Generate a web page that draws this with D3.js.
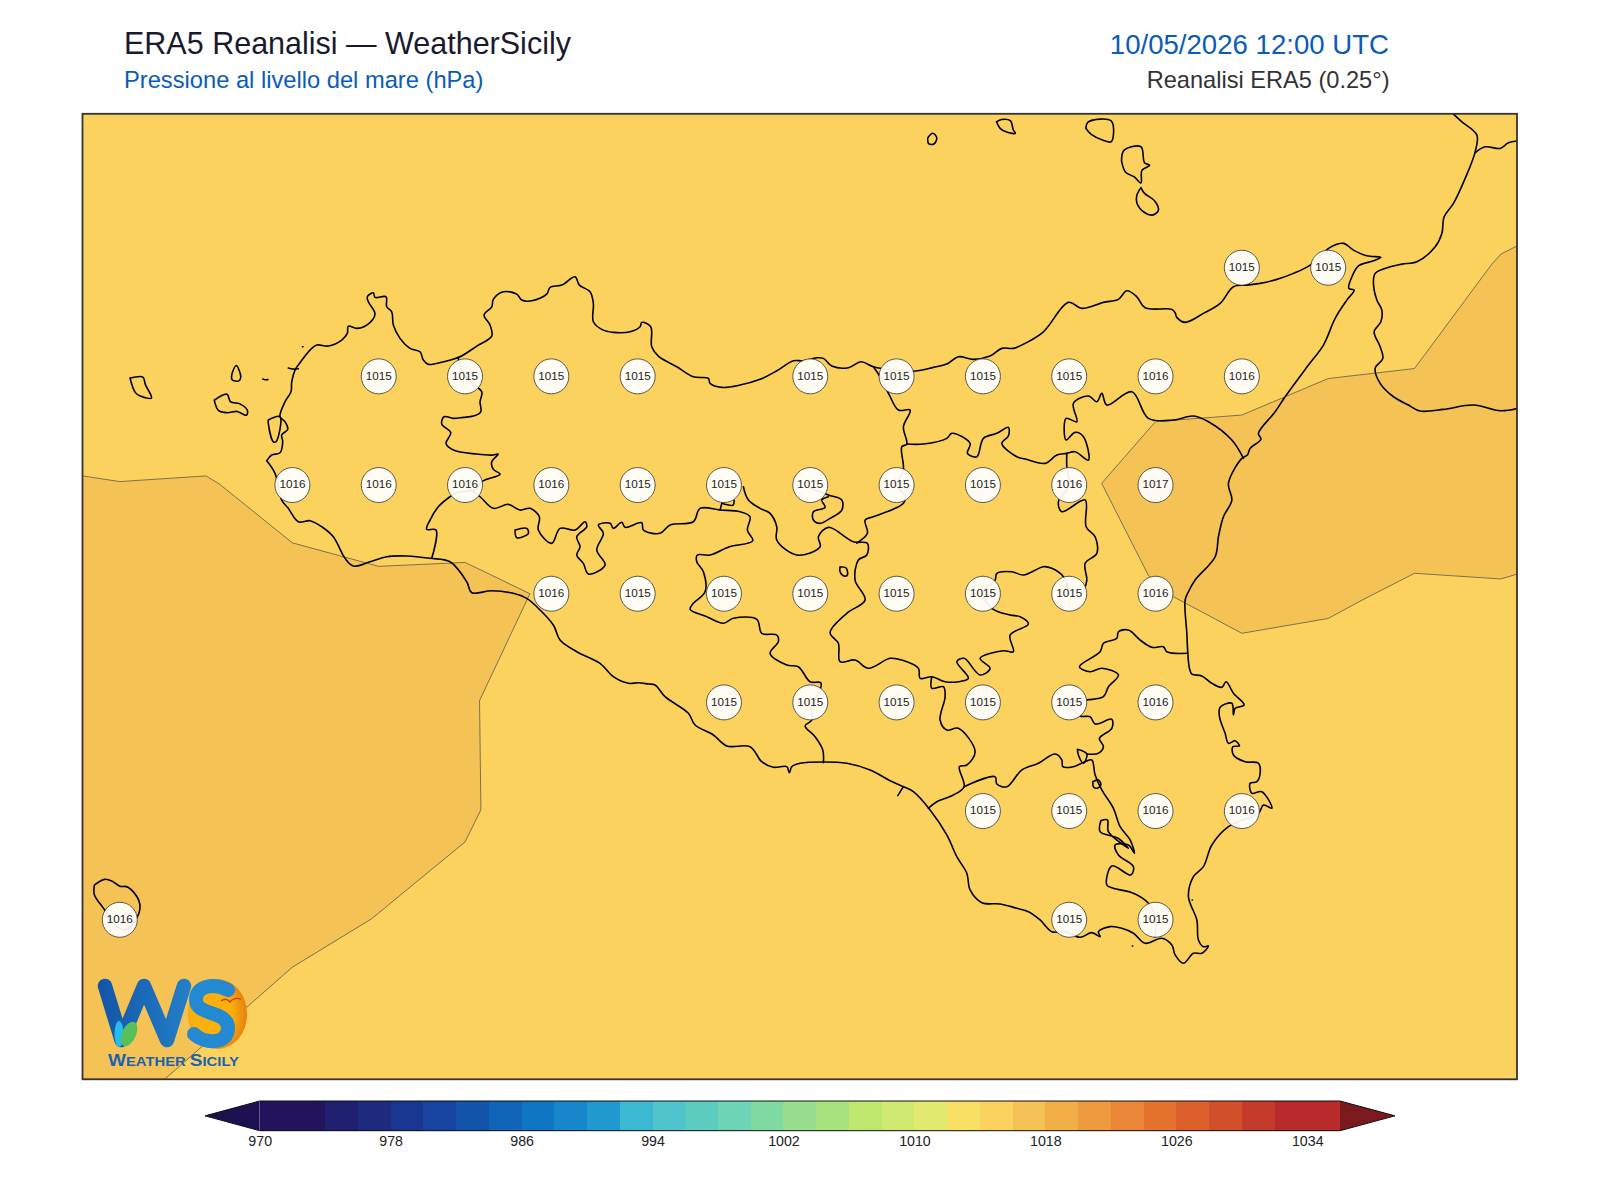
<!DOCTYPE html>
<html><head><meta charset="utf-8">
<script src="https://cdn.jsdelivr.net/npm/d3@7"></script>
<style>html,body{margin:0;padding:0;background:#fff}svg{display:block}text{font-family:"Liberation Sans",Arial,sans-serif}</style>
</head><body><div id="chart"></div>
<script>
// ---- text ----
const titleMain = "ERA5 Reanalisi — WeatherSicily";
const titleSub = "Pressione al livello del mare (hPa)";
const titleDate = "10/05/2026 12:00 UTC";
const titleSource = "Reanalisi ERA5 (0.25°)";
const logoWords = "Weather Sicily";
// ---- colour bar ----
const levels = [970,972,974,976,978,980,982,984,986,988,990,992,994,996,998,1000,1002,1004,1006,1008,1010,1012,1014,1016,1018,1020,1022,1024,1026,1028,1030,1032,1034];
const levelColors = ["#23125c","#23125c","#1f2070","#1e2a7d","#18368f","#16449f","#1354ab","#1165b8","#0e76c3","#1786cb","#2199cf","#3cb9d2","#4fc4cc","#5dccc0","#6dd5b5","#80d9a0","#96de8e","#a8e27f","#bde76e","#d0e96f","#e3ea70","#f8e064","#fcd25f","#f5c255","#f2af48","#ee9b40","#ea8638","#e6722f","#dd5f2b","#d25029","#c43a2b","#b92a2b","#b92a2b"];
const underColor = "#1c1050", overColor = "#7a1a1e";
const colorbarTicks = [970,978,986,994,1002,1010,1018,1026,1034];
// ---- pressure labels at grid points: one row per latitude ----
const rowLat = [38.25,38.0,37.75,37.5,37.25,37.0,36.75];
const rowLons = [
 [15.25,15.5],
 [12.75,13.0,13.25,13.5,14.0,14.25,14.5,14.75,15.0,15.25],
 [12.5,12.75,13.0,13.25,13.5,13.75,14.0,14.25,14.5,14.75,15.0],
 [13.25,13.5,13.75,14.0,14.25,14.5,14.75,15.0],
 [13.75,14.0,14.25,14.5,14.75,15.0],
 [14.5,14.75,15.0,15.25],
 [12.0,14.75,15.0]];
const rowValues = [
 [1015,1015],
 [1015,1015,1015,1015,1015,1015,1015,1015,1016,1016],
 [1016,1016,1016,1016,1015,1015,1015,1015,1015,1016,1017],
 [1016,1015,1015,1015,1015,1015,1015,1016],
 [1015,1015,1015,1015,1015,1016],
 [1015,1015,1016,1016],
 [1016,1015,1015]];
// ---- 1016 hPa filled contour regions, lon/lat ----
const bandLevel = 1016;
const bandWest = [[11.892,37.771],[12.0,37.758],[12.25,37.771],[12.289,37.752],[12.5,37.617],[12.75,37.563],[13.0,37.572],[13.188,37.5],[13.042,37.254],[13.046,37.003],[13.0,36.929],[12.729,36.752],[12.5,36.641],[12.13,36.383],[11.892,36.383]];
const bandEast = [[16.047,38.30],[16.0,38.281],[15.974,38.258],[15.75,38.018],[15.5,37.995],[15.25,37.911],[15.0,37.896],[14.844,37.754],[14.98,37.541],[15.052,37.493],[15.25,37.409],[15.5,37.443],[15.6,37.486],[15.75,37.547],[16.0,37.534],[16.047,37.545]];
// ---- outlines (flat x,y read-off units, converted to lon/lat below) ----
const coastSicily = [266.7,460.7,271.7,455,280,452.7,282.7,441.7,281.7,435,287.7,429.3,285,421.7,280,416.7,285,401.7,291,391.7,291.7,381.7,295,370,300,362.7,310,350,316.7,345,328.3,346,341.7,340,347.3,333.3,348.3,326,356.7,328.3,366.7,325,375,314,368.3,301.7,367.3,296.7,373.3,292.7,375,297.3,386,296.7,386.7,306.7,391.7,311.7,393.3,325,400,338.3,410,348.3,420,351.7,423.3,360,428.3,364.3,443.3,361.7,460,356.7,476.7,346,491.7,336,490,325,484,315,491.7,306.7,493.3,299.3,503.3,291.7,516.7,294,521.7,300,531.7,300.7,546.7,294,550,287.3,561.7,285,575,276.7,579.3,285,590,291.7,593.3,303.3,593.3,321.7,601.7,329.3,613.3,332.3,630,331.7,640,326.7,641.7,322.3,650.7,326.7,651.7,346.7,658.3,356,676.7,366.7,693.3,376.7,708.3,378.3,710,383.3,721.7,387.3,740,385,760,379.3,776.7,370.7,793.3,360.7,803.3,360.7,816.7,357.7,823.3,358.3,831.7,366,848.3,367.7,861,361.7,873.3,366.7,893.3,370,915,371,933.3,367.3,946.7,364,958.3,356.7,973.3,359.3,990,356,1001.7,348.3,1013.3,348.3,1025,343.3,1043.3,331.7,1068.3,302.3,1081.7,308.3,1103.3,302.3,1118.3,299.3,1126.7,290.7,1136.7,296.7,1145,307.7,1171.7,309.3,1175,312.7,1176.7,317.3,1185,322.3,1203.3,313.3,1220,303.3,1233.3,286.7,1246.7,285,1260,283.3,1276.7,279.3,1293.3,273.3,1310,265,1330,247.3,1343.3,243.3,1353.3,250,1366.7,255.7,1380.7,257.3,1373.3,260.7,1358.3,265.7,1353.3,273.3,1348.7,288.3,1354,290,1346.7,300,1335,318.3,1323.3,345,1308.3,365,1285,396.7,1275,411.7,1258.3,433.3,1260.7,439.3,1250,448.3,1247.3,455,1241.7,458.3,1228.3,483.3,1231.7,500,1223.3,516.7,1218.3,536.7,1215,556.7,1195,580,1188.3,591.7,1185,600,1186.7,633.3,1187.7,653.3,1189.3,668.3,1191.7,674,1201.7,676,1211.7,683.3,1221.7,687.3,1226,681.7,1233.3,693.3,1244,705,1235,708.3,1233.3,715,1231.7,703.3,1220,707.3,1219.3,716.7,1225,733.3,1228.3,743.3,1235,740.7,1239.3,746,1232.7,746.7,1233.3,755,1245,761.7,1258.3,763.3,1260,773.3,1256.7,781.7,1250,783.3,1251.7,793.3,1261.7,791.7,1271.7,808.3,1263.3,805,1258.3,813.3,1228.3,826.7,1211.7,845,1203.3,866.7,1193.3,876.7,1188.3,896.7,1196.7,920,1198.3,940,1203.3,946.7,1208.3,946,1201.7,953.3,1193.3,953.3,1183.3,963.3,1175,955,1171.7,945,1161.7,938.3,1145,943.3,1133.3,933.3,1121.7,928.3,1110,926.7,1098.3,931.7,1100,936.7,1091.7,932.7,1080,937.3,1065,931.7,1051.7,931.7,1040,920,1028.3,911.7,1016.7,908.3,1000,904,981.7,902.7,970,890,966.7,873.3,956.7,856.7,946.7,835,930,810,913.3,791.7,903.3,786.7,890,780.7,870,770,846.7,763.3,823.3,762,800,763.3,791.7,766.7,789.3,772.7,786.7,766.7,773.3,767.3,761.7,761.7,750,746.7,726.7,746,713.3,735,695,725,688.3,713.3,665,696.7,655,685,648.3,684,638.3,682.7,628.3,683.3,613.3,676.7,600,663.3,576.7,651.7,560,640,553.3,625,536.7,606.7,526.7,598.3,513.3,593.3,491.7,590.7,471.7,592.7,466.7,581.7,450,561.7,430,558.3,406.7,556,386.7,556.7,370,561.7,353.3,566,345,558.3,333.3,536.7,321.7,526.7,310,520.7,298.3,521.7,288.3,508.3,281.7,500,275,473.3,266.7,460.7];
const coastCalabria = [1453.3,114,1461.7,121.7,1476.7,135,1475,151.7,1465,178.3,1453.3,203.3,1444,216.7,1441.7,233.3,1435,246.7,1416.7,261.7,1401.7,264,1390,266.7,1375,273.3,1373.3,283.3,1376.7,300,1381.7,310,1380.7,321.7,1374,331.7,1380,346.7,1382.7,358.3,1375,368.3,1380,383.3,1393.3,396.7,1408.3,405,1420,411,1443.3,409.3,1473.3,405,1500,410.7,1518,408.3];
const borderCalabria = [1475,152.7,1485,146.7,1500,148.3,1508.3,142.7,1518,140.7];
const islands = [
 [130,378,142.9,377,145.4,384.6,151.5,398,140.3,396,135.2,392.3,130,378],
 [214.3,400,227,394.2,230.6,401.8,239.8,403.8,247.4,410.3,246.4,415.2,237.2,411.4,227,412.6,218.4,410.3,214.3,400],
 [232.1,373.1,236.2,365.5,240.8,377,238.8,380.8,232.1,379.6,232.1,373.1],
 [262.8,378.9,265,379.6,267.9,379.6],
 [94.4,885.1,104.6,879.4,112.2,881.3,119.9,886.3,127.6,887,138.8,900.4,138.8,913.8,125,930,110,920,104.6,910,94.4,894.7,94.4,885.1],
 [927.6,137.8,932.7,133.2,936.7,137.8,933.7,143.9,928.6,143.5,927.6,137.8],
 [996.4,121.7,1001.5,119.4,1010.2,120.6,1013.3,130,1015.3,133.2,1006.6,132,1000,128.2,996.4,121.7],
 [1085.7,128.2,1088.3,121.7,1111.2,120.9,1111.2,141.6,1103.6,140.4,1090.8,134,1085.7,128.2],
 [1121.4,160.7,1124,150,1140.8,146.6,1144.4,162.6,1149.5,165.3,1141.8,170.3,1140.8,182.9,1134.2,176.8,1125.5,172.2,1121.4,160.7],
 [1140.8,187.5,1144.4,193.3,1154.6,200.9,1158.2,210.5,1152,215,1144.4,212.4,1136.7,202.8,1136.7,195.2,1140.8,187.5],
 [515,530,526.7,528.3,528.3,533.3,516.7,537.7,515,530],
 [288.3,368,293,369,298.3,368.6],
 [268.3,420,280,416.7,276,441.7,273.3,441.7,268.3,423.3,268.3,420],
 [1100.7,820.7,1107.3,820,1108.3,831.7,1128.3,848.3,1118,838.3,1100,831.7,1100.7,820.7],
 [1092.7,781.7,1098.3,780,1100.7,785,1096.7,788.3,1093.3,786.7,1092.7,781.7],
 [840,566.7,846,568,847.3,575,844,576,840,571.7,840,566.7],
 [1077.3,749.3,1086.7,754,1083.3,763.3,1078.3,755,1077.3,749.3],
 [903.3,786.7,897.7,795.7],
 [302.5,346.7,303,346.7],
 [1132.2,946,1132.6,946],
 [1192,900,1192.4,900]];
const borders = [
 [458.3,357.3,460,366.7,470,381.7,481.7,391.7,480,401.7,480.7,411.7,473.3,416,463.3,417.3,453.3,418.3,444,416.7,441.7,424,450.7,432.7,446,443.3,453.3,450,476.7,454,493.3,455,498.3,454,491.7,461.7,493.3,469.3,500,474,486.7,479.3,481.7,481.7,475,490,458,492,450,496.7,438.3,506.7,430,520,426.7,529.3,436,530,431.7,558.3],
 [465,485,480,496.7,493.3,508.3,508.3,504.3,520,510,530,508.3,539.3,516.7,538.3,530,551.7,543.3,560,528.3,575,530,585,521.7,586.7,526.7,576.7,536.7,580,546.7,576.7,555,583.3,563.3,588.3,574,605,565,596.7,550,603.3,533.3,598.3,525,610,523.3,613.3,528.3,621.7,522.3,625,527.3,641.7,522.7,643.3,530,660,533.3,670,525,693.3,521.7,700,508.3,720,510,740,511.7,750,516.7,747.3,530,752.7,540.7,729.3,546.7,710,555,697.3,555,696.7,561.7,703.3,571.7,705,591.7,693.3,603.3,690,609.3,706.7,616.7,723.3,623.3,733.3,618.3,756.7,619.3,761.7,633.3,776.7,635,778.3,641.7,770,653.3,786.7,665,798.3,666.7,810,681.7,820.7,682.7,820,690,812,705,811.7,720,805,726,815,736.7,822.7,750,823.3,762.7],
 [721.7,503.3,720,510],
 [721.7,503.3,733,505,734,500],
 [743.3,486.7,748.3,500,760,508.3,770,513.3,776.7,526.7,776.7,540,796.7,555,820,546.7,818.3,536.7,828.3,527.3,853.3,541.7,867.3,543.3,866.7,555,858.3,560,855,580,865,600,846.7,613.3,830,632.7,838.3,643.3,840,661.7,855,660,868.3,668.3,890,658.3,901.7,660,918.3,668.3,920,678.3,931.7,676.7,945,681.7,958.3,681.7,968.3,678.3,956.7,661.7,964,658.3,980,675,990,668.3,980,658.3,1003.3,650.7,1013.3,651.7,1010,635,1028.3,624,1020,616.7,1010,615,991.7,608.3,982.7,592.7,995,580,996.7,573.3,1011.7,571.7,1023.3,575,1043.3,566.7,1051.7,568.3,1063.3,576.7,1069.3,592.7],
 [931.7,676.7,931.7,688.3,943.3,686.7,945,696.7,940,720,946.7,730,958.3,728.3,975,751.7,966.7,765,959.3,766.7,964,786.7,953.3,795,936.7,801.7,928.3,808.3],
 [964,786.7,995,776.7,996.7,784,1006.7,786.7,1021.7,770,1038.3,763.3,1055,754,1061.7,760,1062.7,766.7,1073.3,766.7,1085,761.7,1091.7,760,1095,775,1101.7,790,1113.3,808.3,1120,826.7,1130,840,1134.3,853.3,1128.3,845,1115,845,1118.3,855,1133.3,866.7,1130.7,875,1111.7,866,1106.7,885,1113.3,888.3,1133.3,893.3,1148.3,903.3,1155,916.7,1155,937.3],
 [1086.7,754,1098.3,753.3,1103.3,746.7,1099.3,738.3,1111.7,728.3,1111.7,719.3,1095,724,1090,716.7,1080,716,1069.3,702.7,1086.7,700,1103.3,696.7,1108.3,686.7,1118.3,675,1101.7,668.3,1090,671.7,1079.3,666.7,1100,651.7,1103.3,643.3,1116.7,638.3,1118.3,631.7,1128.3,630,1140,640,1151.7,647.3,1163.3,646.7,1166.7,651.7,1187.7,653.3],
 [873.3,366.7,880,376.7,889.3,395,898.3,410,910,410,903.3,426.7,906.7,444,901.7,446.7,903.3,470,896.7,485,905,495,903.3,503.3,873.3,516.7,865,520,867.3,533.3,856.7,543],
 [906.7,444,923.3,444,946.7,438.3,951.7,433.3,970,443.3,967.3,453.3,976.7,456.7,983.3,438.3,996.7,433.3,1008.3,427.3,1008.3,436,1001.7,443.3,1016.7,456.7,1025,459,1045,463.3,1056.7,455,1066.7,453.3,1075,451.7,1088.3,460,1083.3,436.7,1075,432.3,1066,440,1066,418.3,1076.7,421.7,1073.3,403.3,1088.3,396,1096.7,401.7,1101.7,393.3,1106.7,405,1131.7,391.7,1148.3,418.3,1173.3,420,1193.3,416,1208.3,421.7,1231.7,440,1243.3,458.3],
 [1066.7,453.3,1066.7,467,1069,485,1058.3,501.7,1061.7,511.7,1085,500,1086,526.7,1095,536.7,1096.7,553.3,1085,563.3,1086.7,580,1083.3,591.7],
 [810,488,828.3,495,841.7,500,841.7,510,830,518.3,820,523.3,813.3,520,813.3,511.7,825,507.3,821.7,500,828.3,496.7]];

// ---- scales ----
const traceLon = d3.scaleLinear().domain([119.8,1328]).range([12,15.5]);
const traceLat = d3.scaleLinear().domain([267.6,919.8]).range([38.25,36.75]);
const frame = {left:82.5,right:1517,top:113.8,bottom:1079.3};
const xLon = d3.scaleLinear().domain([11.892,16.047]).range([frame.left,frame.right]);
const yLat = d3.scaleLinear().domain([38.604,36.383]).range([frame.top,frame.bottom]);
const colorOf = d3.scaleOrdinal().domain(levels).range(levelColors);

const svg = d3.select("#chart").append("svg").attr("width",1600).attr("height",1200).attr("viewBox","0 0 1600 1200");
const addText = (s,x,y,size,fill,anchor)=>svg.append("text").text(s).attr("x",x).attr("y",y).attr("font-size",size).attr("fill",fill).attr("text-anchor",anchor||"start");
addText(titleMain,124,54,30.5,"#1a1a2e");
addText(titleSub,124,88,23.7,"#0a5cb8");
addText(titleDate,1389,54,27.6,"#0a5cb8","end");
addText(titleSource,1389.5,88,23.6,"#333333","end");

svg.append("clipPath").attr("id","mapclip").append("rect").attr("x",frame.left).attr("y",frame.top).attr("width",frame.right-frame.left).attr("height",frame.bottom-frame.top);
const map = svg.append("g").attr("clip-path","url(#mapclip)");
map.append("rect").attr("x",frame.left).attr("y",frame.top).attr("width",frame.right-frame.left).attr("height",frame.bottom-frame.top).attr("fill",colorOf(1014));

const lineLL = d3.line().x(d=>xLon(d[0])).y(d=>yLat(d[1]));
const curveLL = d3.line().x(d=>xLon(d[0])).y(d=>yLat(d[1])).curve(d3.curveCatmullRom.alpha(0.5));
map.selectAll("path.band").data([bandWest,bandEast]).join("path").attr("class","band")
  .attr("d",d=>lineLL(d)+"Z").attr("fill",colorOf(bandLevel)).attr("stroke","#4a4a4a").attr("stroke-width",0.7);

const pts = flat=>d3.range(0,flat.length,2).map(i=>[traceLon(flat[i]),traceLat(flat[i+1])]);
const outlines = [coastSicily,coastCalabria,borderCalabria,...islands,...borders];
map.selectAll("path.outline").data(outlines).join("path").attr("class","outline")
  .attr("d",d=>curveLL(pts(d))).attr("fill","none").attr("stroke","#000").attr("stroke-width",1.6).attr("stroke-linejoin","round").attr("stroke-linecap","round");

const labels = rowLat.flatMap((lat,i)=>rowLons[i].map((lon,j)=>({lon,lat,v:rowValues[i][j]})));
const g = map.selectAll("g.lab").data(labels).join("g").attr("class","lab").attr("transform",d=>`translate(${xLon(d.lon)},${yLat(d.lat)})`);
g.append("circle").attr("r",17.5).attr("fill","#ffffff").attr("fill-opacity",0.93).attr("stroke","#333").attr("stroke-width",0.8);
g.append("text").text(d=>d.v).attr("text-anchor","middle").attr("y",3.2).attr("font-size",11.7).attr("fill","#222");

// logo (a picture in the original): W and S are drawn as brush strokes
const defs = svg.append("defs");
const wg = defs.append("linearGradient").attr("id","wg").attr("gradientUnits","userSpaceOnUse").attr("x1",97).attr("x2",192).attr("y1",1015).attr("y2",1015);
wg.append("stop").attr("offset",0).attr("stop-color","#1254a6");
wg.append("stop").attr("offset",1).attr("stop-color","#2480c8");
const og = defs.append("radialGradient").attr("id","og").attr("cx",0.4).attr("cy",0.5).attr("r",0.62);
og.append("stop").attr("offset",0.55).attr("stop-color","#fbb00e");
og.append("stop").attr("offset",1).attr("stop-color","#e57d0e");
const logo = svg.append("g");
logo.append("ellipse").attr("cx",217.5).attr("cy",1014).attr("rx",29.5).attr("ry",35).attr("fill","url(#og)");
logo.append("path").attr("d","M105 986L121.5 1040L144 986L167 1040L184 986").attr("fill","none").attr("stroke","url(#wg)").attr("stroke-width",14.5).attr("stroke-linecap","round").attr("stroke-linejoin","round");
logo.append("path").attr("d","M228 990C214 983 196 985 196 1000C196 1016 228 1010 228 1028C228 1045 204 1044 194 1034").attr("fill","none").attr("stroke","#2389d0").attr("stroke-width",14).attr("stroke-linecap","round");
logo.append("ellipse").attr("cx",119).attr("cy",1034).attr("rx",4.5).attr("ry",13).attr("fill","#25bdec");
logo.append("ellipse").attr("cx",129).attr("cy",1034).attr("rx",7).attr("ry",13).attr("transform","rotate(24 129 1034)").attr("fill","#58c05a");
logo.append("path").attr("d","M221 1001q5 -4 9 1q4 -5 11 -3").attr("fill","none").attr("stroke","#c8401a").attr("stroke-width",1.3);
const wm = logo.append("text").attr("x",108).attr("y",1065.5).attr("font-weight","bold").attr("fill","#1a62b0").attr("font-size",12.5).attr("textLength",131).attr("lengthAdjust","spacingAndGlyphs");
const [w1,w2] = logoWords.split(" ");
[[w1[0],16],[w1.slice(1).toUpperCase()+" ",12.5],[w2[0],16],[w2.slice(1).toUpperCase(),12.5]].forEach(([t,s])=>wm.append("tspan").text(t).attr("font-size",s));

svg.append("rect").attr("x",frame.left).attr("y",frame.top).attr("width",frame.right-frame.left).attr("height",frame.bottom-frame.top).attr("fill","none").attr("stroke","#333").attr("stroke-width",1.8);

// colour bar
const cb = d3.scaleLinear().domain([970,1036]).range([259.7,1340]);
const cbTop = 1101, cbBot = 1130.7, cbMid = (cbTop+cbBot)/2;
const cbG = svg.append("g");
cbG.selectAll("rect").data(levels).join("rect").attr("x",d=>cb(d)).attr("y",cbTop).attr("width",d=>cb(d+2)-cb(d)+0.6).attr("height",cbBot-cbTop).attr("fill",d=>colorOf(d)).attr("shape-rendering","crispEdges");
cbG.append("path").attr("d",`M${cb(970)},${cbTop}L${cb(966.66)},${cbMid}L${cb(970)},${cbBot}Z`).attr("fill",underColor);
cbG.append("path").attr("d",`M${cb(1036)},${cbTop}L${cb(1039.36)},${cbMid}L${cb(1036)},${cbBot}Z`).attr("fill",overColor);
cbG.append("path").attr("d",`M${cb(970)},${cbTop}L${cb(966.66)},${cbMid}L${cb(970)},${cbBot}L${cb(1036)},${cbBot}L${cb(1039.36)},${cbMid}L${cb(1036)},${cbTop}Z`).attr("fill","none").attr("stroke","#111").attr("stroke-width",1);
const axis = d3.axisBottom(cb).tickValues(colorbarTicks).tickSize(0).tickPadding(5).tickFormat(d3.format("d"));
const ax = svg.append("g").attr("transform",`translate(0,${cbBot})`).call(axis);
ax.select(".domain").remove();
ax.selectAll("text").attr("font-size",14.2).attr("fill","#222").style("font-family",'"Liberation Sans",Arial,sans-serif');
</script></body></html>
